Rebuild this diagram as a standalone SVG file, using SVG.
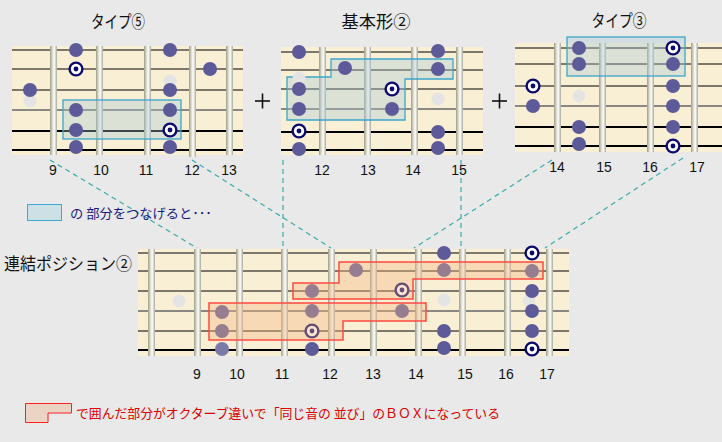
<svg xmlns="http://www.w3.org/2000/svg" xmlns:xlink="http://www.w3.org/1999/xlink" width="722" height="442" viewBox="0 0 722 442">
<style>
.board{fill:#f8efd5}
.s{stroke:#000;stroke-width:1}
.s4{stroke:#666;stroke-width:1.6}
.sb{stroke:#000;stroke-width:2}
.fret{fill:url(#fg)}
.dot{fill:#5c5a98}
.ghost{fill:#e4e4e4}
.blue{fill:#a8c8d8;fill-opacity:0.35;stroke:#3aa6cc;stroke-width:1.3}
.red{fill:#f5b880;fill-opacity:0.38;stroke:#ff4a40;stroke-width:1.5}
.conn line{stroke:#3aabab;stroke-width:1.2;stroke-dasharray:5 4;fill:none}
.title{font-family:"Noto Sans CJK JP",sans-serif;font-size:17px;fill:#111;text-anchor:middle}
.num{font-family:"Liberation Sans","DejaVu Sans",sans-serif;font-size:14px;fill:#111;text-anchor:middle}
.plus{stroke:#111;stroke-width:1.6}
</style>
<defs>
<linearGradient id="fg" x1="0" x2="1" y1="0" y2="0">
<stop offset="0" stop-color="#a09c80"/>
<stop offset="0.3" stop-color="#d4d4c8"/>
<stop offset="0.6" stop-color="#ffffff"/>
<stop offset="1" stop-color="#a8a898"/>
</linearGradient>
<g id="T"><circle r="7.6" fill="#0a0a6e"/><circle r="5.2" fill="#fff"/><circle r="2.4" fill="#0a0a6e"/></g>
<circle id="D" r="7" class="dot"/>
<circle id="G" r="6.5" class="ghost"/>
</defs>
<rect width="722" height="442" fill="#e8e9e8"/>

<g id="conn" class="conn">
<line x1="50" y1="160" x2="197" y2="248"/>
<line x1="192" y1="160" x2="331" y2="248"/>
<line x1="283" y1="160" x2="283" y2="248"/>
<line x1="461" y1="160" x2="461" y2="248"/>
<line x1="552" y1="160" x2="414" y2="248"/>
<line x1="683" y1="158" x2="545" y2="248"/>
</g>

<g id="type5">
<text class="title" x="118" y="28" textLength="54" lengthAdjust="spacingAndGlyphs">タイプ⑤</text>
<rect class="board" x="12" y="46" width="231" height="109"/>
<line class="s" x1="12" y1="50" x2="243" y2="50"/>
<line class="s" x1="12" y1="69" x2="243" y2="69"/>
<line class="s" x1="12" y1="90" x2="243" y2="90"/>
<line class="s4" x1="12" y1="110" x2="243" y2="110"/>
<line class="sb" x1="12" y1="131" x2="243" y2="131"/>
<line class="sb" x1="12" y1="150" x2="243" y2="150"/>
<rect class="fret" x="50" y="46" width="7" height="109"/>
<rect class="fret" x="96" y="46" width="7" height="109"/>
<rect class="fret" x="144" y="46" width="7" height="109"/>
<rect class="fret" x="189" y="46" width="7" height="111"/>
<rect class="fret" x="226" y="46" width="7" height="109"/>
<rect class="blue" x="63" y="100" width="118" height="39"/>
<use href="#G" x="30" y="101"/><use href="#D" x="30" y="90"/>
<use href="#D" x="76" y="50"/><use href="#T" x="76" y="69"/><use href="#D" x="76" y="110"/><use href="#D" x="76" y="130"/><use href="#D" x="76" y="147"/>
<use href="#G" x="170" y="81"/><use href="#D" x="170" y="50"/><use href="#D" x="170" y="90"/><use href="#D" x="170" y="110"/><use href="#T" x="170" y="130"/><use href="#D" x="170" y="147"/>
<use href="#D" x="210" y="69"/>
<text class="num" x="53" y="175">9</text>
<text class="num" x="101" y="175">10</text>
<text class="num" x="146" y="175">11</text>
<text class="num" x="192" y="175">12</text>
<text class="num" x="229" y="175">13</text>
</g>

<g id="plus1"><line class="plus" x1="255" y1="101" x2="270" y2="101"/><line class="plus" x1="262.5" y1="93.5" x2="262.5" y2="108.5"/></g>

<g id="basic2">
<text class="title" x="376" y="28" textLength="69" lengthAdjust="spacingAndGlyphs">基本形②</text>
<rect class="board" x="281" y="47" width="202" height="108"/>
<line class="s" x1="281" y1="52" x2="483" y2="52"/>
<line class="s" x1="281" y1="70" x2="483" y2="70"/>
<line class="s" x1="281" y1="89" x2="483" y2="89"/>
<line class="s4" x1="281" y1="109" x2="483" y2="109"/>
<line class="sb" x1="281" y1="132" x2="483" y2="132"/>
<line class="sb" x1="281" y1="150" x2="483" y2="150"/>
<rect class="fret" x="319" y="47" width="7" height="108"/>
<rect class="fret" x="364" y="47" width="7" height="108"/>
<rect class="fret" x="411" y="47" width="7" height="108"/>
<rect class="fret" x="456" y="47" width="7" height="108"/>
<polygon class="blue" points="287,77 331,77 331,59 453,59 453,79 405,79 405,120 287,120"/>
<use href="#G" x="299" y="78"/><use href="#D" x="299" y="52"/><use href="#D" x="299" y="89"/><use href="#D" x="299" y="109"/><use href="#T" x="299" y="131"/><use href="#D" x="299" y="149"/>
<use href="#D" x="345" y="68"/>
<use href="#T" x="392" y="89"/><use href="#D" x="392" y="109"/>
<use href="#G" x="438" y="99"/><use href="#D" x="438" y="51"/><use href="#D" x="438" y="69"/><use href="#D" x="438" y="132"/><use href="#D" x="438" y="148"/>
<text class="num" x="322" y="175">12</text>
<text class="num" x="368" y="175">13</text>
<text class="num" x="413" y="175">14</text>
<text class="num" x="459" y="175">15</text>
</g>

<g id="plus2"><line class="plus" x1="492" y1="101" x2="507" y2="101"/><line class="plus" x1="499.5" y1="93.5" x2="499.5" y2="108.5"/></g>

<g id="type3">
<text class="title" x="619" y="27" textLength="55" lengthAdjust="spacingAndGlyphs">タイプ③</text>
<rect class="board" x="515" y="43" width="207" height="109"/>
<line class="s" x1="515" y1="48" x2="722" y2="48"/>
<line class="s" x1="515" y1="64" x2="722" y2="64"/>
<line class="s" x1="515" y1="86" x2="722" y2="86"/>
<line class="s4" x1="515" y1="106" x2="722" y2="106"/>
<line class="sb" x1="515" y1="127" x2="722" y2="127"/>
<line class="sb" x1="515" y1="146" x2="722" y2="146"/>
<rect class="fret" x="554" y="43" width="7" height="109"/>
<rect class="fret" x="599" y="43" width="7" height="109"/>
<rect class="fret" x="647" y="43" width="7" height="109"/>
<rect class="fret" x="691" y="43" width="7" height="109"/>
<rect class="blue" x="567" y="37" width="118" height="39"/>
<use href="#T" x="533" y="86"/><use href="#D" x="533" y="106"/>
<use href="#G" x="579" y="96"/><use href="#D" x="579" y="48"/><use href="#D" x="579" y="64"/><use href="#D" x="579" y="127"/><use href="#D" x="579" y="144"/>
<use href="#T" x="673" y="48"/><use href="#D" x="673" y="64"/><use href="#D" x="673" y="86"/><use href="#D" x="673" y="106"/><use href="#D" x="673" y="127"/><use href="#T" x="673" y="146"/>
<text class="num" x="557" y="172">14</text>
<text class="num" x="604" y="172">15</text>
<text class="num" x="650" y="172">16</text>
<text class="num" x="697" y="172">17</text>
</g>

<g id="legend1">
<rect x="27.5" y="204.5" width="34" height="16" fill="#cde0e6" stroke="#3aa8d8" stroke-width="1"/>
<text x="70" y="218" font-family="'Noto Sans CJK JP',sans-serif" font-size="13" fill="#1a1a80" textLength="142" lengthAdjust="spacingAndGlyphs">の 部分をつなげると･･･</text>
</g>

<g id="linked2">
<text x="4" y="270" font-family="'Noto Sans CJK JP',sans-serif" font-size="17" fill="#111" textLength="128" lengthAdjust="spacingAndGlyphs">連結ポジション②</text>
<rect class="board" x="138" y="249" width="431" height="107"/>
<line class="s" x1="138" y1="253" x2="569" y2="253"/>
<line class="s" x1="138" y1="271" x2="569" y2="271"/>
<line class="s" x1="138" y1="291" x2="569" y2="291"/>
<line class="s4" x1="138" y1="311" x2="569" y2="311"/>
<line class="s" x1="138" y1="331" x2="569" y2="331" stroke-width="1.4"/>
<line class="sb" x1="138" y1="350" x2="569" y2="350"/>
<rect class="fret" x="148" y="249" width="7" height="107"/>
<rect class="fret" x="194" y="249" width="7" height="107"/>
<rect class="fret" x="236" y="249" width="7" height="107"/>
<rect class="fret" x="281" y="249" width="7" height="107"/>
<rect class="fret" x="328" y="249" width="7" height="107"/>
<rect class="fret" x="370" y="249" width="7" height="107"/>
<rect class="fret" x="415" y="249" width="7" height="107"/>
<rect class="fret" x="459" y="249" width="7" height="107"/>
<rect class="fret" x="504" y="249" width="7" height="107"/>
<rect class="fret" x="546" y="249" width="7" height="107"/>
<use href="#G" x="179" y="301"/>
<use href="#D" x="222" y="312"/><use href="#D" x="222" y="331"/><circle cx="222" cy="349" r="7" fill="#7c7aa8"/>
<use href="#D" x="312" y="291"/><use href="#D" x="312" y="311"/><use href="#T" x="312" y="331"/><use href="#D" x="312" y="349"/>
<use href="#D" x="356" y="270"/>
<use href="#T" x="402" y="290"/><use href="#D" x="402" y="311"/>
<use href="#G" x="444" y="300"/><use href="#D" x="444" y="253"/><use href="#D" x="444" y="270"/><use href="#D" x="444" y="331"/><use href="#D" x="444" y="348"/>
<use href="#G" x="529" y="301"/>
<use href="#T" x="532" y="253"/><use href="#D" x="532" y="271"/><use href="#D" x="532" y="291"/><use href="#D" x="532" y="311"/><use href="#D" x="532" y="331"/><use href="#T" x="532" y="349"/>
<polygon class="red" points="293,283 339,283 339,262 543,262 543,279 413,279 413,299 293,299"/>
<polygon class="red" points="209,303 426,303 426,321 343,321 343,340 209,340"/>
<text class="num" x="197" y="379">9</text>
<text class="num" x="237" y="379">10</text>
<text class="num" x="282" y="379">11</text>
<text class="num" x="330" y="379">12</text>
<text class="num" x="373" y="379">13</text>
<text class="num" x="416" y="379">14</text>
<text class="num" x="465" y="379">15</text>
<text class="num" x="506" y="379">16</text>
<text class="num" x="547" y="379">17</text>
</g>

<g id="legend2">
<polygon points="25.5,403.5 71.5,403.5 71.5,413 48,413 48,422.5 25.5,422.5" fill="#ecd4c4" stroke="#ff2020" stroke-width="1"/>
<text x="76" y="418" font-family="'Noto Sans CJK JP',sans-serif" font-size="13" fill="#dd0000" textLength="424" lengthAdjust="spacingAndGlyphs">で囲んだ部分がオクターブ違いで「同じ音の 並び」のＢＯＸになっている</text>
</g>
</svg>
